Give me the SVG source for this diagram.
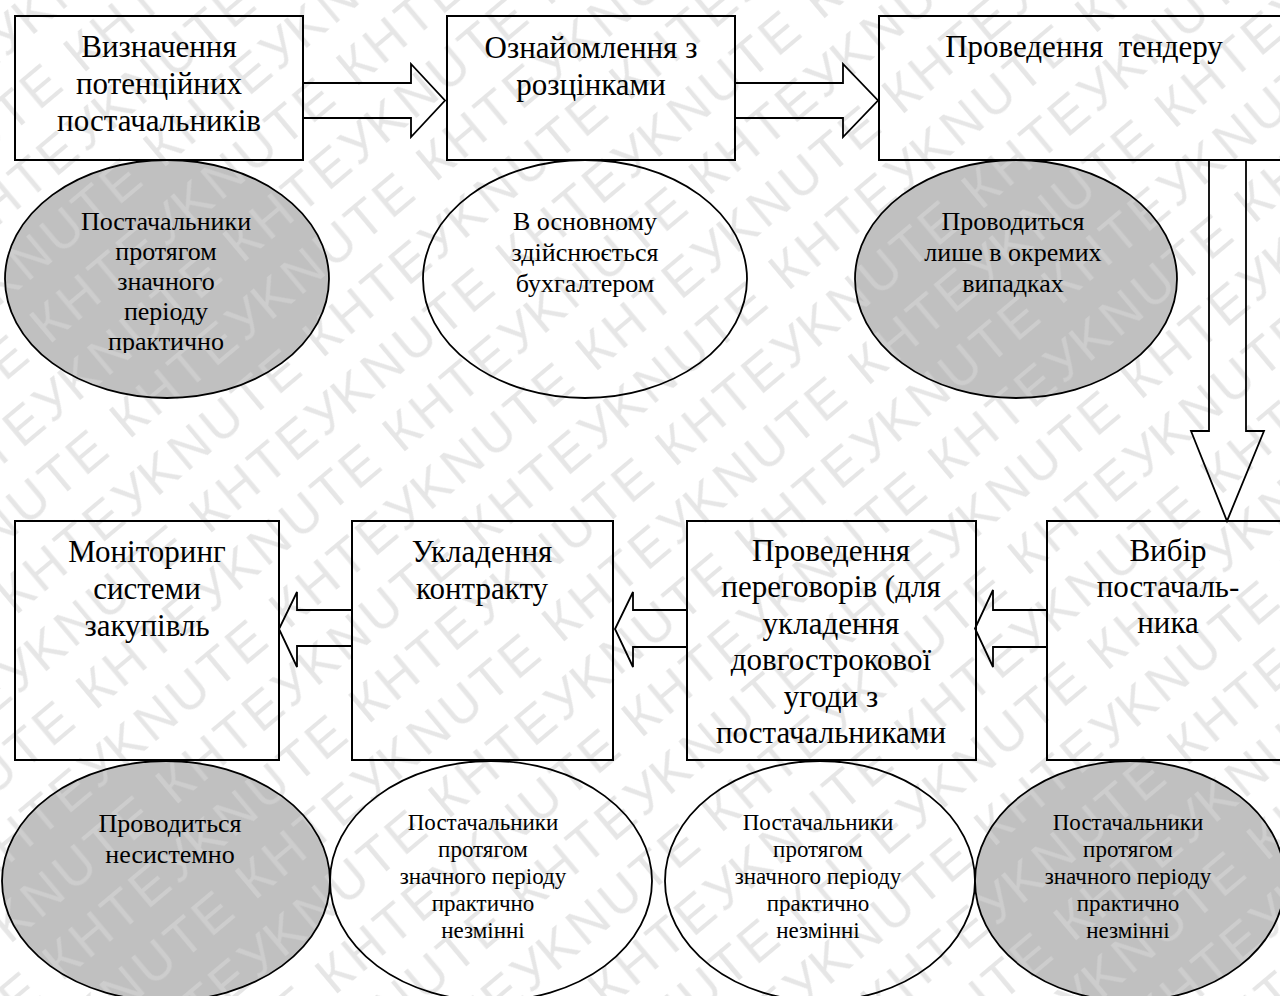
<svg xmlns="http://www.w3.org/2000/svg" width="1280" height="996" viewBox="0 0 1280 996">
<style>
.box{fill:none;stroke:#000;stroke-width:2}
.ovw{fill:none;stroke:#000;stroke-width:1.8}
.ovg{fill:url(#wmGray);stroke:#000;stroke-width:1.8}
.arr{fill:none;stroke:#000;stroke-width:1.8;stroke-linejoin:miter}
.bt{font-family:"Liberation Serif","Times New Roman",serif;font-size:31px;fill:#000;text-anchor:middle}
.et{font-family:"Liberation Serif","Times New Roman",serif;font-size:26px;fill:#000;text-anchor:middle}
.st{font-family:"Liberation Serif","Times New Roman",serif;font-size:23px;fill:#000;text-anchor:middle}
.s1{font-family:"Liberation Serif","Times New Roman",serif;font-size:26px;fill:#000;text-anchor:middle}
.wm{font-family:"Liberation Sans",Arial,sans-serif;font-size:52px}
.wmw{fill:#e6e6e6}
.wmg{fill:#cdcdcd}
</style>
<defs>
<clipPath id="clipE1"><rect x="0" y="160" width="340" height="193"/></clipPath>
<pattern id="wmWhite" patternUnits="userSpaceOnUse" width="400" height="124" patternTransform="rotate(-40)">
<text class="wm wmw" x="0" y="48" textLength="400" lengthAdjust="spacing">KNUTE КНТЕУ </text>
<text class="wm wmw" x="-200" y="110" textLength="400" lengthAdjust="spacing">KNUTE КНТЕУ </text>
<text class="wm wmw" x="200" y="110" textLength="400" lengthAdjust="spacing">KNUTE КНТЕУ </text>
</pattern>
<pattern id="wmGray" patternUnits="userSpaceOnUse" width="400" height="124" patternTransform="rotate(-40)">
<rect x="-10" y="-10" width="420" height="144" fill="#c0c0c0"/>
<text class="wm wmg" x="0" y="48" textLength="400" lengthAdjust="spacing">KNUTE КНТЕУ </text>
<text class="wm wmg" x="-200" y="110" textLength="400" lengthAdjust="spacing">KNUTE КНТЕУ </text>
<text class="wm wmg" x="200" y="110" textLength="400" lengthAdjust="spacing">KNUTE КНТЕУ </text>
</pattern>
</defs>
<rect x="0" y="0" width="1280" height="996" fill="#fff"/>
<rect id="watermark" x="0" y="0" width="1280" height="996" fill="url(#wmWhite)"/>

<g id="connectors">
<polygon class="arr" points="303,83 411,83 411,64 445,100.5 411,137 411,118 303,118"/>
<polygon class="arr" points="735,83 843,83 843,64 878,100.5 843,137 843,118 735,118"/>
<polygon class="arr" points="1209,160 1209,431 1191,431 1227,521 1264,431 1246,431 1246,160"/>
<polygon class="arr" points="1047,610 993,610 993,590 975,628.5 993,667 993,647 1047,647"/>
<polygon class="arr" points="687,610 633,610 633,592 615,629 633,667 633,647 687,647"/>
<polygon class="arr" points="352,610 297,610 297,592 279,629 297,667 297,646 352,646"/>
</g>

<g id="n1">
<rect class="box" x="15" y="16" width="288" height="144"/>
<text class="bt" x="159" y="57">Визначення</text>
<text class="bt" x="159" y="94">потенційних</text>
<text class="bt" x="159" y="131">постачальників</text>
</g>
<g id="n2">
<rect class="box" x="447" y="16" width="288" height="144"/>
<text class="bt" x="591" y="58">Ознайомлення з</text>
<text class="bt" x="591" y="95">розцінками</text>
</g>
<g id="n3">
<rect class="box" x="879" y="16" width="420" height="144"/>
<text class="bt" x="1084" y="57" xml:space="preserve">Проведення  тендеру</text>
</g>

<g id="e1">
<ellipse class="ovg" cx="167" cy="279" rx="162" ry="119"/>
<g clip-path="url(#clipE1)">
<text class="et" x="166" y="230">Постачальники</text>
<text class="et" x="166" y="260">протягом</text>
<text class="et" x="166" y="290">значного</text>
<text class="et" x="166" y="320">періоду</text>
<text class="et" x="166" y="350">практично</text>
</g>
</g>
<g id="e2">
<ellipse class="ovw" cx="585" cy="279" rx="162" ry="119"/>
<text class="et" x="585" y="230">В основному</text>
<text class="et" x="585" y="261">здійснюється</text>
<text class="et" x="585" y="292">бухгалтером</text>
</g>
<g id="e3">
<ellipse class="ovg" cx="1016" cy="279" rx="161" ry="119"/>
<text class="et" x="1013" y="230">Проводиться</text>
<text class="et" x="1013" y="261">лише в окремих</text>
<text class="et" x="1013" y="292">випадках</text>
</g>

<g id="n4">
<rect class="box" x="15" y="521" width="264" height="239"/>
<text class="bt" x="147" y="562">Моніторинг</text>
<text class="bt" x="147" y="599">системи</text>
<text class="bt" x="147" y="636">закупівль</text>
</g>
<g id="n5">
<rect class="box" x="352" y="521" width="261" height="239"/>
<text class="bt" x="482" y="562">Укладення</text>
<text class="bt" x="482" y="599">контракту</text>
</g>
<g id="n6">
<rect class="box" x="687" y="521" width="289" height="239"/>
<text class="bt" x="831" y="561">Проведення</text>
<text class="bt" x="831" y="597">переговорів (для</text>
<text class="bt" x="831" y="634">укладення</text>
<text class="bt" x="831" y="670">довгострокової</text>
<text class="bt" x="831" y="707">угоди з</text>
<text class="bt" x="831" y="743">постачальниками</text>
</g>
<g id="n7">
<rect class="box" x="1047" y="521" width="242" height="239"/>
<text class="bt" x="1168" y="561">Вибір</text>
<text class="bt" x="1168" y="597">постачаль-</text>
<text class="bt" x="1168" y="633">ника</text>
</g>

<g id="e4">
<ellipse class="ovg" cx="166" cy="881" rx="164" ry="120"/>
<text class="s1" x="170" y="832">Проводиться</text>
<text class="s1" x="170" y="863">несистемно</text>
</g>
<g id="e5">
<ellipse class="ovw" cx="491" cy="881" rx="161" ry="120"/>
<text class="st" x="483" y="830">Постачальники</text>
<text class="st" x="483" y="857">протягом</text>
<text class="st" x="483" y="884">значного періоду</text>
<text class="st" x="483" y="911">практично</text>
<text class="st" x="483" y="938">незмінні</text>
</g>
<g id="e6">
<ellipse class="ovw" cx="820" cy="881" rx="155" ry="120"/>
<text class="st" x="818" y="830">Постачальники</text>
<text class="st" x="818" y="857">протягом</text>
<text class="st" x="818" y="884">значного періоду</text>
<text class="st" x="818" y="911">практично</text>
<text class="st" x="818" y="938">незмінні</text>
</g>
<g id="e7">
<ellipse class="ovg" cx="1130" cy="881" rx="155" ry="120"/>
<text class="st" x="1128" y="830">Постачальники</text>
<text class="st" x="1128" y="857">протягом</text>
<text class="st" x="1128" y="884">значного періоду</text>
<text class="st" x="1128" y="911">практично</text>
<text class="st" x="1128" y="938">незмінні</text>
</g>
</svg>
